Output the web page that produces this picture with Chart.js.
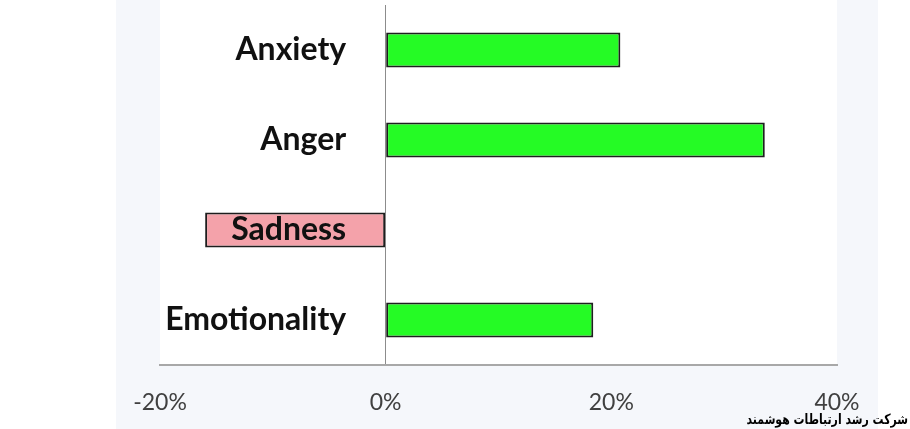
<!DOCTYPE html>
<html>
<head>
<meta charset="utf-8">
<script src="https://cdn.jsdelivr.net/npm/chart.js@4/dist/chart.umd.min.js"></script>
<style>
    html, body { margin: 0; padding: 0; background: #ffffff; }
    #wrap { position: relative; width: 910px; height: 429px; }
    #panel { position: absolute; left: 116px; top: 0; width: 762px; height: 429px; background: #f5f7fb; }
    #chart { position: absolute; left: 0; top: 0; }
    #mark {
        position: absolute; right: 2px; bottom: 2px;
        font-family: "DejaVu Sans", sans-serif; font-weight: bold; font-size: 14px;
        color: #000; direction: rtl; white-space: nowrap;
        transform: scaleX(0.78); transform-origin: right bottom;
    }
</style>
</head>
<body>
<div id="wrap">
    <div id="panel"></div>
    <canvas id="chart" width="910" height="429"></canvas>
    <div id="mark">شرکت رشد ارتباطات هوشمند</div>
</div>
<script>
// 数据
var categories = ['Anxiety', 'Anger', 'Sadness', 'Emotionality'];
var changeValues = [20.8, 33.6, -16.0, 18.4];
var xTicks = [-20, 0, 20, 40];

var GREEN = '#25fb25';
var PINK = '#f4a2aa';

// 白色绘图区背景
var plotBackground = {
    id: 'plotBackground',
    beforeDraw: function (chart) {
        var a = chart.chartArea;
        var c = chart.ctx;
        c.save();
        c.fillStyle = '#ffffff';
        c.fillRect(a.left, 0, a.right - a.left, a.bottom);
        c.restore();
    }
};

var ctx = document.getElementById('chart');
var chart = new Chart(ctx, {
    type: 'bar',
    data: {
        labels: categories,
        datasets: [{
            data: changeValues,
            backgroundColor: changeValues.map(function (v) { return v < 0 ? PINK : GREEN; }),
            borderColor: '#1e1e1e',
            borderWidth: 2,
            borderSkipped: false,
            categoryPercentage: 1,
            barPercentage: 0.39
        }]
    },
    options: {
        indexAxis: 'y',
        responsive: false,
        animation: false,
        layout: { padding: { left: 160, right: 73, top: 5, bottom: 0 } },
        plugins: {
            legend: { display: false },
            tooltip: { enabled: false }
        },
        scales: {
            x: {
                min: -20,
                max: 40,
                afterFit: function (s) { s.height = 64; },
                afterBuildTicks: function (s) {
                    s.ticks = xTicks.map(function (v) { return { value: v }; });
                },
                grid: {
                    drawTicks: false,
                    color: function (c) { return c.tick && c.tick.value === 0 ? '#8c8c8c' : 'rgba(0,0,0,0)'; },
                    lineWidth: 1
                },
                border: { display: true, color: '#a8a8a8', width: 2 },
                ticks: {
                    padding: 24,
                    color: '#404040',
                    font: { family: 'Lato', size: 23 },
                    callback: function (v) { return v + '%'; }
                }
            },
            y: {
                position: { x: -3.5 },
                afterFit: function (s) { s.paddingTop = 0; s.paddingBottom = 0; },
                grid: { display: false },
                border: { display: false },
                ticks: {
                    z: 1,
                    padding: 0,
                    color: '#111111',
                    font: { family: 'Lato', size: 32, weight: 'bold' }
                }
            }
        }
    },
    plugins: [plotBackground]
});
</script>
</body>
</html>
